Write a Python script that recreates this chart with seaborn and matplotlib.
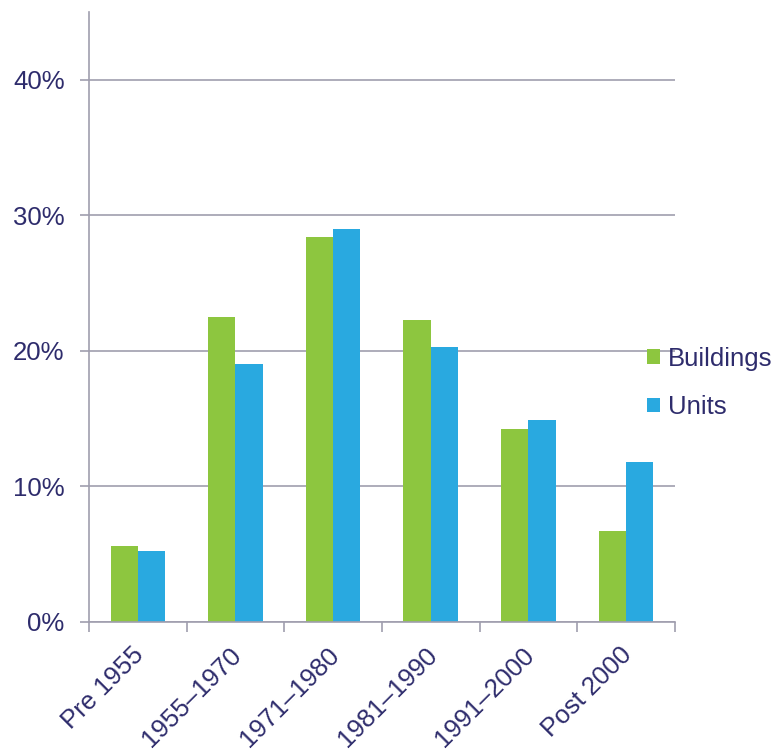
import pandas as pd
import seaborn as sns
import matplotlib.pyplot as plt
import matplotlib.transforms as mtransforms
from matplotlib.ticker import PercentFormatter, FixedLocator
import numpy as np

# Data (share of stock by construction period)
periods = ['Pre 1955', '1955\u20131970', '1971\u20131980', '1981\u20131990', '1991\u20132000', 'Post 2000']
buildings = [5.6, 22.5, 28.4, 22.3, 14.2, 6.7]
units = [5.2, 19.0, 29.0, 20.3, 14.9, 11.8]
series = ['Buildings', 'Units']
colors = ['#8DC63F', '#29A9E0']

df = pd.DataFrame({
    'period': periods * 2,
    'share': buildings + units,
    'series': ['Buildings'] * len(periods) + ['Units'] * len(periods),
})

text_color = '#2E2C6C'
line_color = '#A09EAE'

sns.set_theme(style='white')
plt.rcParams['font.family'] = ['Liberation Sans', 'DejaVu Sans']

fig = plt.figure(figsize=(7.79, 7.5), dpi=100)
ax = fig.add_axes([0.1143, 0.1707, 0.752, 0.8133])

sns.barplot(data=df, x='period', y='share', hue='series', order=periods,
            hue_order=series, palette=colors, width=0.56, saturation=1,
            edgecolor='none', ax=ax, legend=True)

ax.set_ylim(0, 45)
ax.set_xlim(-0.5, len(periods) - 0.5)
ax.set_yticks([0, 10, 20, 30, 40])
ax.yaxis.set_major_formatter(PercentFormatter(decimals=0))
ax.yaxis.grid(True, color=line_color, linewidth=1.2)
ax.set_axisbelow(True)

for s in ['top', 'right']:
    ax.spines[s].set_visible(False)
for s in ['left', 'bottom']:
    ax.spines[s].set_color(line_color)
    ax.spines[s].set_linewidth(1.2)

ax.tick_params(axis='y', which='major', length=6.5, width=1.2, color=line_color,
               pad=11, labelsize=18.5, labelcolor=text_color, left=True)
ax.tick_params(axis='x', which='major', length=0, pad=15, labelsize=18.5,
               labelcolor=text_color)
ax.xaxis.set_minor_locator(FixedLocator(np.arange(-0.5, len(periods), 1.0)))
ax.tick_params(axis='x', which='minor', length=7, width=1.2, color=line_color,
               bottom=True)

shift = mtransforms.ScaledTranslation(-6 / 100, 0, fig.dpi_scale_trans)
for lbl in ax.get_xticklabels():
    lbl.set_rotation(45)
    lbl.set_ha('right')
    lbl.set_va('top')
    lbl.set_rotation_mode('anchor')
    lbl.set_transform(lbl.get_transform() + shift)

ax.set_xlabel('')
ax.set_ylabel('')

leg = ax.legend(loc='center left', bbox_to_anchor=(0.935, 0.392), frameon=False,
                fontsize=18.5, handlelength=0.5, handleheight=0.5,
                handletextpad=0.3, labelspacing=0.95, borderaxespad=0)
for t in leg.get_texts():
    t.set_color(text_color)

fig.savefig('out.png', dpi=100)
